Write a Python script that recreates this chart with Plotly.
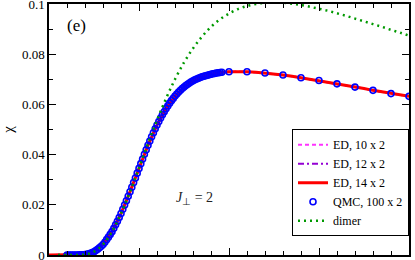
import plotly.graph_objects as go

# ---- data ----
T_ed = [0.00, 0.05, 0.10, 0.15, 0.20, 0.25, 0.30, 0.35, 0.40, 0.45, 0.50, 0.55, 0.60, 0.65, 0.70,
        0.75, 0.80, 0.85, 0.90, 0.95, 1.00, 1.05, 1.10, 1.15, 1.20, 1.25, 1.30, 1.35, 1.40, 1.45,
        1.50, 1.55, 1.60, 1.65, 1.70, 1.75, 1.80, 1.85, 1.90, 1.95, 2.00]
chi_ed14 = [0.0, 0.0, 0.0, 0.0, 0.0002, 0.0013, 0.0042, 0.0093, 0.0165, 0.0252, 0.0345, 0.0437,
            0.0518, 0.0583, 0.0633, 0.0669, 0.0694, 0.0710, 0.0720, 0.0727, 0.0730, 0.0731, 0.0730,
            0.0728, 0.0725, 0.0721, 0.0717, 0.0712, 0.0706, 0.0701, 0.0695, 0.0689, 0.0682, 0.0676,
            0.0669, 0.0663, 0.0656, 0.0650, 0.0643, 0.0637, 0.0632]
chi_ed12 = list(chi_ed14)
chi_ed10 = list(chi_ed14)

T_qmc = [0.10, 0.11, 0.12, 0.13, 0.14, 0.15, 0.16, 0.17, 0.18, 0.19,
         0.20, 0.21, 0.22, 0.23, 0.24, 0.25, 0.26, 0.27, 0.28, 0.29,
         0.30, 0.31, 0.32, 0.33, 0.34, 0.35, 0.36, 0.37, 0.38, 0.39,
         0.40, 0.41, 0.42, 0.43, 0.44, 0.45, 0.46, 0.47, 0.48, 0.49,
         0.50, 0.51, 0.52, 0.53, 0.54, 0.55, 0.56, 0.57, 0.58, 0.59,
         0.60, 0.61, 0.62, 0.63, 0.64, 0.65, 0.66, 0.67, 0.68, 0.69,
         0.70, 0.71, 0.72, 0.73, 0.74, 0.75, 0.76, 0.77, 0.78, 0.79,
         0.80, 0.81, 0.82, 0.83, 0.84, 0.85, 0.86, 0.87, 0.88, 0.89,
         0.90, 0.91, 0.92, 0.93, 0.94, 0.95, 0.96,
         1.0, 1.1, 1.2, 1.3, 1.4, 1.5, 1.6, 1.7, 1.8, 1.9, 2.0]
chi_qmc = [0.0000, 0.0000, 0.0000, 0.0000, 0.0000, 0.0000, 0.0000, 0.0001, 0.0001, 0.0001,
           0.0002, 0.0003, 0.0005, 0.0007, 0.0010, 0.0013, 0.0018, 0.0023, 0.0029, 0.0035,
           0.0042, 0.0051, 0.0061, 0.0071, 0.0082, 0.0093, 0.0106, 0.0120, 0.0134, 0.0149,
           0.0165, 0.0182, 0.0199, 0.0216, 0.0234, 0.0252, 0.0270, 0.0289, 0.0307, 0.0326,
           0.0345, 0.0364, 0.0382, 0.0401, 0.0419, 0.0437, 0.0454, 0.0471, 0.0487, 0.0503,
           0.0518, 0.0532, 0.0546, 0.0559, 0.0571, 0.0583, 0.0594, 0.0605, 0.0615, 0.0624,
           0.0633, 0.0641, 0.0649, 0.0656, 0.0663, 0.0669, 0.0675, 0.0680, 0.0685, 0.0690,
           0.0694, 0.0698, 0.0701, 0.0704, 0.0707, 0.0710, 0.0712, 0.0714, 0.0716, 0.0718,
           0.0720, 0.0722, 0.0723, 0.0725, 0.0726, 0.0727, 0.0728,
           0.0730, 0.0730, 0.0725, 0.0717, 0.0706, 0.0695, 0.0682, 0.0669, 0.0656, 0.0643, 0.0632]

T_dimer = [0.05, 0.10, 0.15, 0.20, 0.25, 0.30, 0.35, 0.40, 0.45, 0.50, 0.55, 0.60, 0.65, 0.70,
           0.75, 0.80, 0.85, 0.90, 0.95, 1.00, 1.05, 1.10, 1.15, 1.20, 1.25, 1.30, 1.35, 1.40,
           1.45, 1.50, 1.55, 1.60, 1.65, 1.70, 1.75, 1.80, 1.85, 1.90, 1.95, 2.00]
chi_dimer = [0.0, 0.0, 0.0000, 0.0002, 0.0013, 0.0042, 0.0093, 0.0165, 0.0252, 0.0347, 0.0445,
             0.0537, 0.0623, 0.0700, 0.0767, 0.0823, 0.0870, 0.0909, 0.0939, 0.0962, 0.0980,
             0.0992, 0.1000, 0.1005, 0.1006, 0.1005, 0.1001, 0.0996, 0.0989, 0.0981, 0.0973,
             0.0963, 0.0953, 0.0942, 0.0931, 0.0920, 0.0909, 0.0897, 0.0886, 0.0874]

y_tickvals = [0, 0.02, 0.04, 0.06, 0.08, 0.1]
y_ticktext = ["0", "0.02", "0.04", "0.06", "0.08", "0.1"]

FONT = "Liberation Serif, Times New Roman, serif"

fig = go.Figure()
fig.add_trace(go.Scatter(x=T_ed, y=chi_ed10, mode="lines", name="ED, 10 x 2",
                         line=dict(color="#ff33ff", width=2, dash="4px,3px")))
fig.add_trace(go.Scatter(x=T_ed, y=chi_ed12, mode="lines", name="ED, 12 x 2",
                         line=dict(color="#9400d3", width=2, dash="6px,3px,2px,3px")))
fig.add_trace(go.Scatter(x=T_ed, y=chi_ed14, mode="lines", name="ED, 14 x 2",
                         line=dict(color="#ff0000", width=3)))
fig.add_trace(go.Scatter(x=T_qmc, y=chi_qmc, mode="markers", name="QMC, 100 x 2",
                         marker=dict(symbol="circle-open", size=6, color="#0000ff",
                                     line=dict(width=1.6, color="#0000ff"))))
fig.add_trace(go.Scatter(x=T_dimer, y=chi_dimer, mode="lines", name="dimer",
                         line=dict(color="#009900", width=2.5, dash="2px,4px", shape="spline")))

axis_common = dict(showline=True, linecolor="black", linewidth=1.5, mirror="allticks",
                   ticks="inside", tickcolor="black", tickwidth=1.2, ticklen=7,
                   showgrid=False, zeroline=False)

fig.update_xaxes(range=[0, 2], tickvals=[0, 0.5, 1.0, 1.5, 2.0], showticklabels=False,
                 minor=dict(dtick=0.1, ticks="inside", ticklen=4, tickcolor="black", tickwidth=1.2),
                 **axis_common)
fig.update_yaxes(range=[-0.00001, 0.10001], tickvals=y_tickvals, ticktext=y_ticktext,
                 tickfont=dict(family=FONT, size=13, color="black"),
                 ticklabeloverflow="allow",
                 minor=dict(dtick=0.01, ticks="inside", ticklen=4, tickcolor="black", tickwidth=1.2),
                 title=dict(text="χ", font=dict(family=FONT, size=15, color="black"), standoff=6),
                 **axis_common)

fig.add_annotation(x=0.045, y=0.915, xref="paper", yref="paper", text="(e)", showarrow=False,
                   xanchor="left", yanchor="middle", font=dict(family=FONT, size=17, color="black"))
fig.add_annotation(x=0.405, y=0.227, xref="paper", yref="paper",
                   text="<i>J</i><sub>⊥</sub> = 2", showarrow=False,
                   xanchor="center", yanchor="middle", font=dict(family=FONT, size=14, color="#222"))

fig.update_layout(
    width=415, height=260,
    margin=dict(l=49, r=6, t=4, b=5, autoexpand=False),
    paper_bgcolor="white", plot_bgcolor="white",
    font=dict(family=FONT, size=12, color="black"),
    showlegend=True,
    legend=dict(x=1, y=0.075, xanchor="right", yanchor="bottom",
                bgcolor="white", bordercolor="black", borderwidth=1,
                font=dict(family=FONT, size=12, color="black"),
                itemwidth=30, tracegroupgap=0, traceorder="normal"),
)

fig.write_html("out.html", config={"displayModeBar": False},
               post_script="document.body.style.margin='0';document.body.style.overflow='hidden';")
